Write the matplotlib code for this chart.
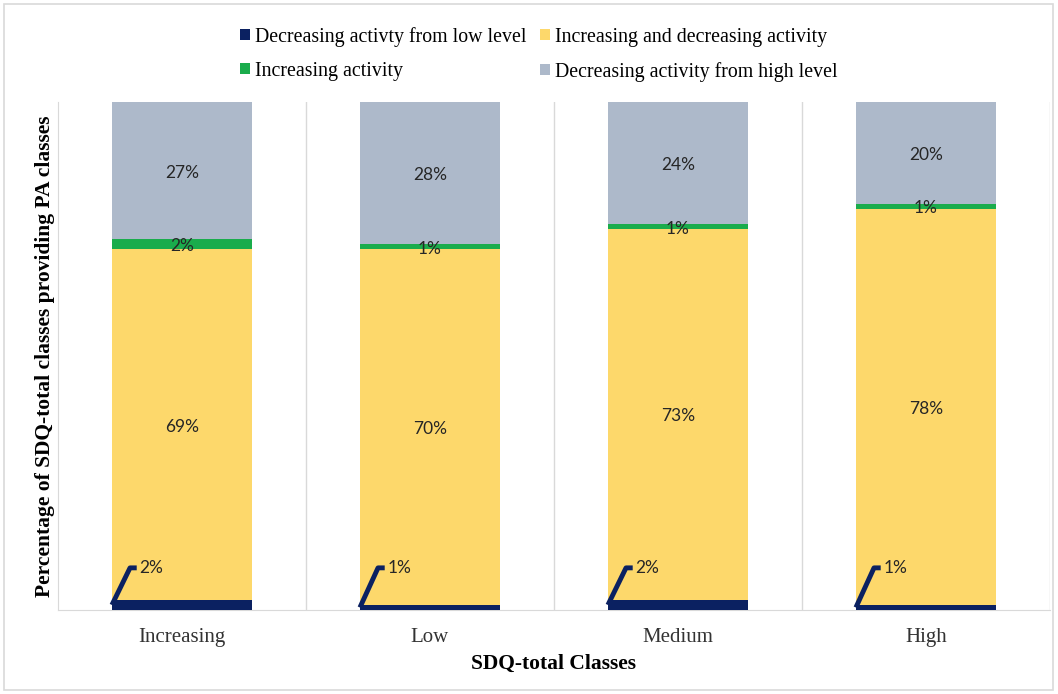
import matplotlib.pyplot as plt
from matplotlib.patches import Rectangle

classes = ["Increasing", "Low", "Medium", "High"]
dec_low = [2, 1, 2, 1]
inc_dec = [69, 70, 73, 78]
increasing = [2, 1, 1, 1]
dec_high = [27, 28, 24, 20]

series_names = ["Decreasing activty from low level", "Increasing and decreasing activity",
                "Increasing activity", "Decreasing activity from high level"]
colors = ["#0b2161", "#fdd86b", "#1aac4c", "#adb9ca"]

serif = "Liberation Serif"
label_font = ["Lato", "DejaVu Sans"]


def main():
    fig = plt.figure(figsize=(10.58, 6.94), dpi=100)
    fig.patches.append(Rectangle((0.004, 0.006), 0.991, 0.988, transform=fig.transFigure,
                                 fill=False, edgecolor="#d9d9d9", linewidth=1.2))
    ax = fig.add_axes([0.0548, 0.121, 0.9376, 0.732])

    x = list(range(len(classes)))
    width = 0.565
    bottoms = [0] * len(classes)
    bars = []
    for vals, name, c in zip([dec_low, inc_dec, increasing, dec_high], series_names, colors):
        b = ax.bar(x, vals, width, bottom=bottoms, color=c, label=name, zorder=3)
        bars.append((b, vals, list(bottoms)))
        bottoms = [bt + v for bt, v in zip(bottoms, vals)]

    # labels in the middle of the larger segments
    for b, vals, bts in bars[1:]:
        for xi, v, bt in zip(x, vals, bts):
            ax.text(xi, bt + v / 2 - 0.4, f"{v}%", ha="center", va="center",
                    fontsize=12.5, family=label_font, color="#262626", zorder=5)

    # the thin bottom segment gets a leader line
    for xi, v in zip(x, dec_low):
        left = xi - width / 2
        ly = 8.3
        ax.plot([left, left + 0.073, left + 0.1], [v / 2, ly, ly], color=colors[0],
                linewidth=3.5, solid_capstyle="butt", zorder=4)
        ax.text(left + 0.11, ly, f"{v}%", ha="left", va="center",
                fontsize=12.5, family=label_font, color="#262626", zorder=5)

    ax.set_xlim(-0.5, len(classes) - 0.5)
    ax.set_ylim(0, 100)
    for sep in [i + 0.5 for i in x]:
        ax.axvline(sep, color="#d9d9d9", linewidth=1, zorder=1)
    for s in ["top", "right"]:
        ax.spines[s].set_visible(False)
    for s in ["left", "bottom"]:
        ax.spines[s].set_color("#d9d9d9")
    ax.set_yticks([])
    ax.set_xticks(x)
    ax.set_xticklabels(classes, family=serif, fontsize=15, color="#333333")
    ax.tick_params(axis="x", length=0, pad=13)
    ax.set_xlabel("SDQ-total Classes", family=serif, fontsize=15.5, fontweight="bold", labelpad=5)
    ax.set_ylabel("Percentage of SDQ-total classes providing PA classes", family=serif,
                  fontsize=15.5, fontweight="bold", labelpad=2)

    # legend fills row by row: low, inc/dec on top, increasing, high below
    handles, labels = ax.get_legend_handles_labels()
    order = [0, 2, 1, 3]
    ax.legend([handles[i] for i in order], [labels[i] for i in order],
              loc="lower center", bbox_to_anchor=(0.485, 1.005), ncol=2, frameon=False,
              prop={"family": serif, "size": 14.3}, handlelength=0.5, handleheight=0.5,
              handletextpad=0.25, columnspacing=0.7, labelspacing=0.75)

    fig.savefig("out.png")
    plt.close(fig)


if __name__ == "__main__":
    main()
